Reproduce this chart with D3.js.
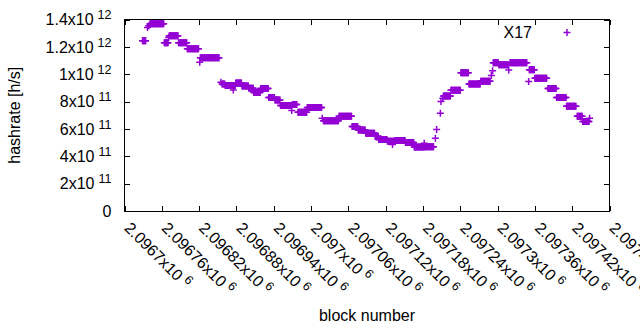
<!DOCTYPE html>
<html>
<head>
<meta charset="utf-8">
<script src="https://cdn.jsdelivr.net/npm/d3@7"></script>
<style>
body { margin: 0; background: #fff; }
text { font-family: "Liberation Sans", Arial, sans-serif; fill: #000; }
</style>
</head>
<body>
<div id="chart"></div>
<script>
// runs of blocks with (roughly) constant hashrate
var runStart = [2096729, 2096737, 2096739, 2096741, 2096764, 2096771, 2096772, 2096787, 2096801, 2096821,
	2096822, 2096855, 2096857, 2096862, 2096875, 2096879, 2096889, 2096900, 2096908, 2096919,
	2096932, 2096942, 2096951, 2096969, 2096970, 2096979, 2096994, 2097018, 2097020, 2097045,
	2097066, 2097076, 2097088, 2097103, 2097109, 2097123, 2097131, 2097135, 2097152, 2097166,
	2097182, 2097183, 2097200, 2097202, 2097208, 2097209, 2097212, 2097213, 2097225, 2097241,
	2097254, 2097273, 2097290, 2097292, 2097293, 2097302, 2097318, 2097320, 2097350, 2097351,
	2097360, 2097381, 2097395, 2097411, 2097428, 2097437, 2097448];
var runEnd = [2096734, 2096737, 2096739, 2096763, 2096770, 2096771, 2096786, 2096800, 2096819, 2096821,
	2096852, 2096855, 2096861, 2096878, 2096875, 2096888, 2096899, 2096907, 2096918, 2096931,
	2096941, 2096950, 2096968, 2096969, 2096977, 2096993, 2097017, 2097018, 2097044, 2097065,
	2097075, 2097087, 2097102, 2097108, 2097122, 2097134, 2097131, 2097151, 2097165, 2097182,
	2097182, 2097197, 2097200, 2097202, 2097208, 2097209, 2097212, 2097224, 2097240, 2097253,
	2097272, 2097288, 2097290, 2097292, 2097301, 2097317, 2097318, 2097347, 2097350, 2097359,
	2097379, 2097394, 2097410, 2097426, 2097436, 2097447, 2097448];
var runValue = [1.245e12, 1.342e12, 1.354e12, 1.369e12, 1.230e12, 1.269e12, 1.281e12, 1.230e12, 1.186e12, 1.087e12,
	1.121e12, 0.941e12, 0.928e12, 0.917e12, 0.885e12, 0.936e12, 0.914e12, 0.897e12, 0.866e12, 0.895e12,
	0.829e12, 0.812e12, 0.771e12, 0.734e12, 0.778e12, 0.722e12, 0.756e12, 0.678e12, 0.659e12, 0.693e12,
	0.618e12, 0.593e12, 0.569e12, 0.547e12, 0.523e12, 0.510e12, 0.486e12, 0.516e12, 0.501e12, 0.467e12,
	0.496e12, 0.469e12, 0.532e12, 0.596e12, 0.715e12, 0.800e12, 0.824e12, 0.841e12, 0.882e12, 1.011e12,
	0.928e12, 0.948e12, 0.990e12, 1.026e12, 1.084e12, 1.070e12, 1.030e12, 1.084e12, 0.946e12, 1.033e12,
	0.970e12, 0.895e12, 0.829e12, 0.766e12, 0.693e12, 0.654e12, 0.678e12];

var xTicks = [2096700, 2096760, 2096820, 2096880, 2096940, 2097000, 2097060, 2097120, 2097180,
	2097240, 2097300, 2097360, 2097420, 2097480];
var xTickMantissa = ["2.0967", "2.09676", "2.09682", "2.09688", "2.09694", "2.097", "2.09706",
	"2.09712", "2.09718", "2.09724", "2.0973", "2.09736", "2.09742", "2.09748"];
var yTicks = [0, 2e11, 4e11, 6e11, 8e11, 1e12, 1.2e12, 1.4e12];
var yTickMantissa = ["0", "2", "4", "6", "8", "1", "1.2", "1.4"];
var yTickExp = ["", "11", "11", "11", "11", "12", "12", "12"];
var seriesName = "X17";

var color = "#9400d3";
var W = 640, H = 330;
var plotL = 124.5, plotR = 609.5, plotT = 19.5, plotB = 211;

// one point per block
var points = [];
for (var i = 0; i < runStart.length; i++) {
	for (var b = runStart[i]; b <= runEnd[i]; b++) {
		points.push({block: b, value: runValue[i]});
	}
}

var svg = d3.select("#chart").append("svg")
	.attr("width", W)
	.attr("height", H);
svg.append("rect").attr("width", W).attr("height", H).attr("fill", "#fff");

var x = d3.scaleLinear().domain([2096700, 2097480]).range([plotL, plotR]);
var y = d3.scaleLinear().domain([0, 1.4e12]).range([plotB, plotT]);

// inward ticks on all four sides
var tickLen = 5.5;
var axes = svg.append("g").attr("stroke", "#000").attr("stroke-width", 1).attr("shape-rendering", "crispEdges");
axes.selectAll("line.xb").data(xTicks).enter().append("line")
	.attr("x1", function(d) { return Math.round(x(d)) + 0.5; })
	.attr("x2", function(d) { return Math.round(x(d)) + 0.5; })
	.attr("y1", plotB).attr("y2", plotB - tickLen);
axes.selectAll("line.xt").data(xTicks).enter().append("line")
	.attr("x1", function(d) { return Math.round(x(d)) + 0.5; })
	.attr("x2", function(d) { return Math.round(x(d)) + 0.5; })
	.attr("y1", plotT).attr("y2", plotT + tickLen);
axes.selectAll("line.yl").data(yTicks).enter().append("line")
	.attr("y1", function(d) { return Math.round(y(d)) + 0.5; })
	.attr("y2", function(d) { return Math.round(y(d)) + 0.5; })
	.attr("x1", plotL).attr("x2", plotL + tickLen);
axes.selectAll("line.yr").data(yTicks).enter().append("line")
	.attr("y1", function(d) { return Math.round(y(d)) + 0.5; })
	.attr("y2", function(d) { return Math.round(y(d)) + 0.5; })
	.attr("x1", plotR).attr("x2", plotR - tickLen);
axes.append("rect")
	.attr("x", plotL).attr("y", plotT)
	.attr("width", plotR - plotL).attr("height", plotB - plotT)
	.attr("fill", "none");

// y tick labels  (mantissa x10^exp)
var ylab = svg.selectAll("text.ytick").data(yTicks).enter().append("text")
	.attr("class", "ytick")
	.attr("x", 111.5)
	.attr("y", function(d) { return y(d) + 5.7; })
	.attr("text-anchor", "end")
	.attr("font-size", 16);
ylab.append("tspan").text(function(d, i) { return yTickExp[i] ? yTickMantissa[i] + "x10" : yTickMantissa[i]; });
ylab.append("tspan")
	.attr("dx", function(d, i) { return yTickExp[i] ? 4 : 0; })
	.attr("dy", -6)
	.attr("font-size", 12.5)
	.text(function(d, i) { return yTickExp[i]; });

// x tick labels, rotated
var xlab = svg.selectAll("text.xtick").data(xTicks).enter().append("text")
	.attr("class", "xtick")
	.attr("font-size", 16)
	.attr("transform", function(d) { return "translate(" + (x(d) - 1) + ",229) rotate(45)"; });
xlab.append("tspan").text(function(d, i) { return xTickMantissa[i] + "x10"; });
xlab.append("tspan").attr("dx", 4).attr("dy", -6).attr("font-size", 12.5).text("6");

svg.append("text")
	.attr("x", (plotL + plotR) / 2).attr("y", 321)
	.attr("text-anchor", "middle").attr("font-size", 16)
	.text("block number");
svg.append("text")
	.attr("transform", "translate(20," + ((plotT + plotB) / 2) + ") rotate(-90)")
	.attr("text-anchor", "middle").attr("font-size", 16)
	.text("hashrate [h/s]");

// points
var cross = "M-3.5,0H3.5M0,-3.5V3.5";
svg.append("g").selectAll("path").data(points).enter().append("path")
	.attr("transform", function(d) { return "translate(" + x(d.block) + "," + y(d.value) + ")"; })
	.attr("d", cross)
	.attr("fill", "none")
	.attr("stroke", color)
	.attr("stroke-width", 1.5);

// legend
svg.append("text")
	.attr("x", 532).attr("y", 37.5)
	.attr("text-anchor", "end").attr("font-size", 16)
	.text(seriesName);
svg.append("path")
	.attr("transform", "translate(567,32.5)")
	.attr("d", cross)
	.attr("fill", "none")
	.attr("stroke", color)
	.attr("stroke-width", 1.5);
</script>
</body>
</html>
